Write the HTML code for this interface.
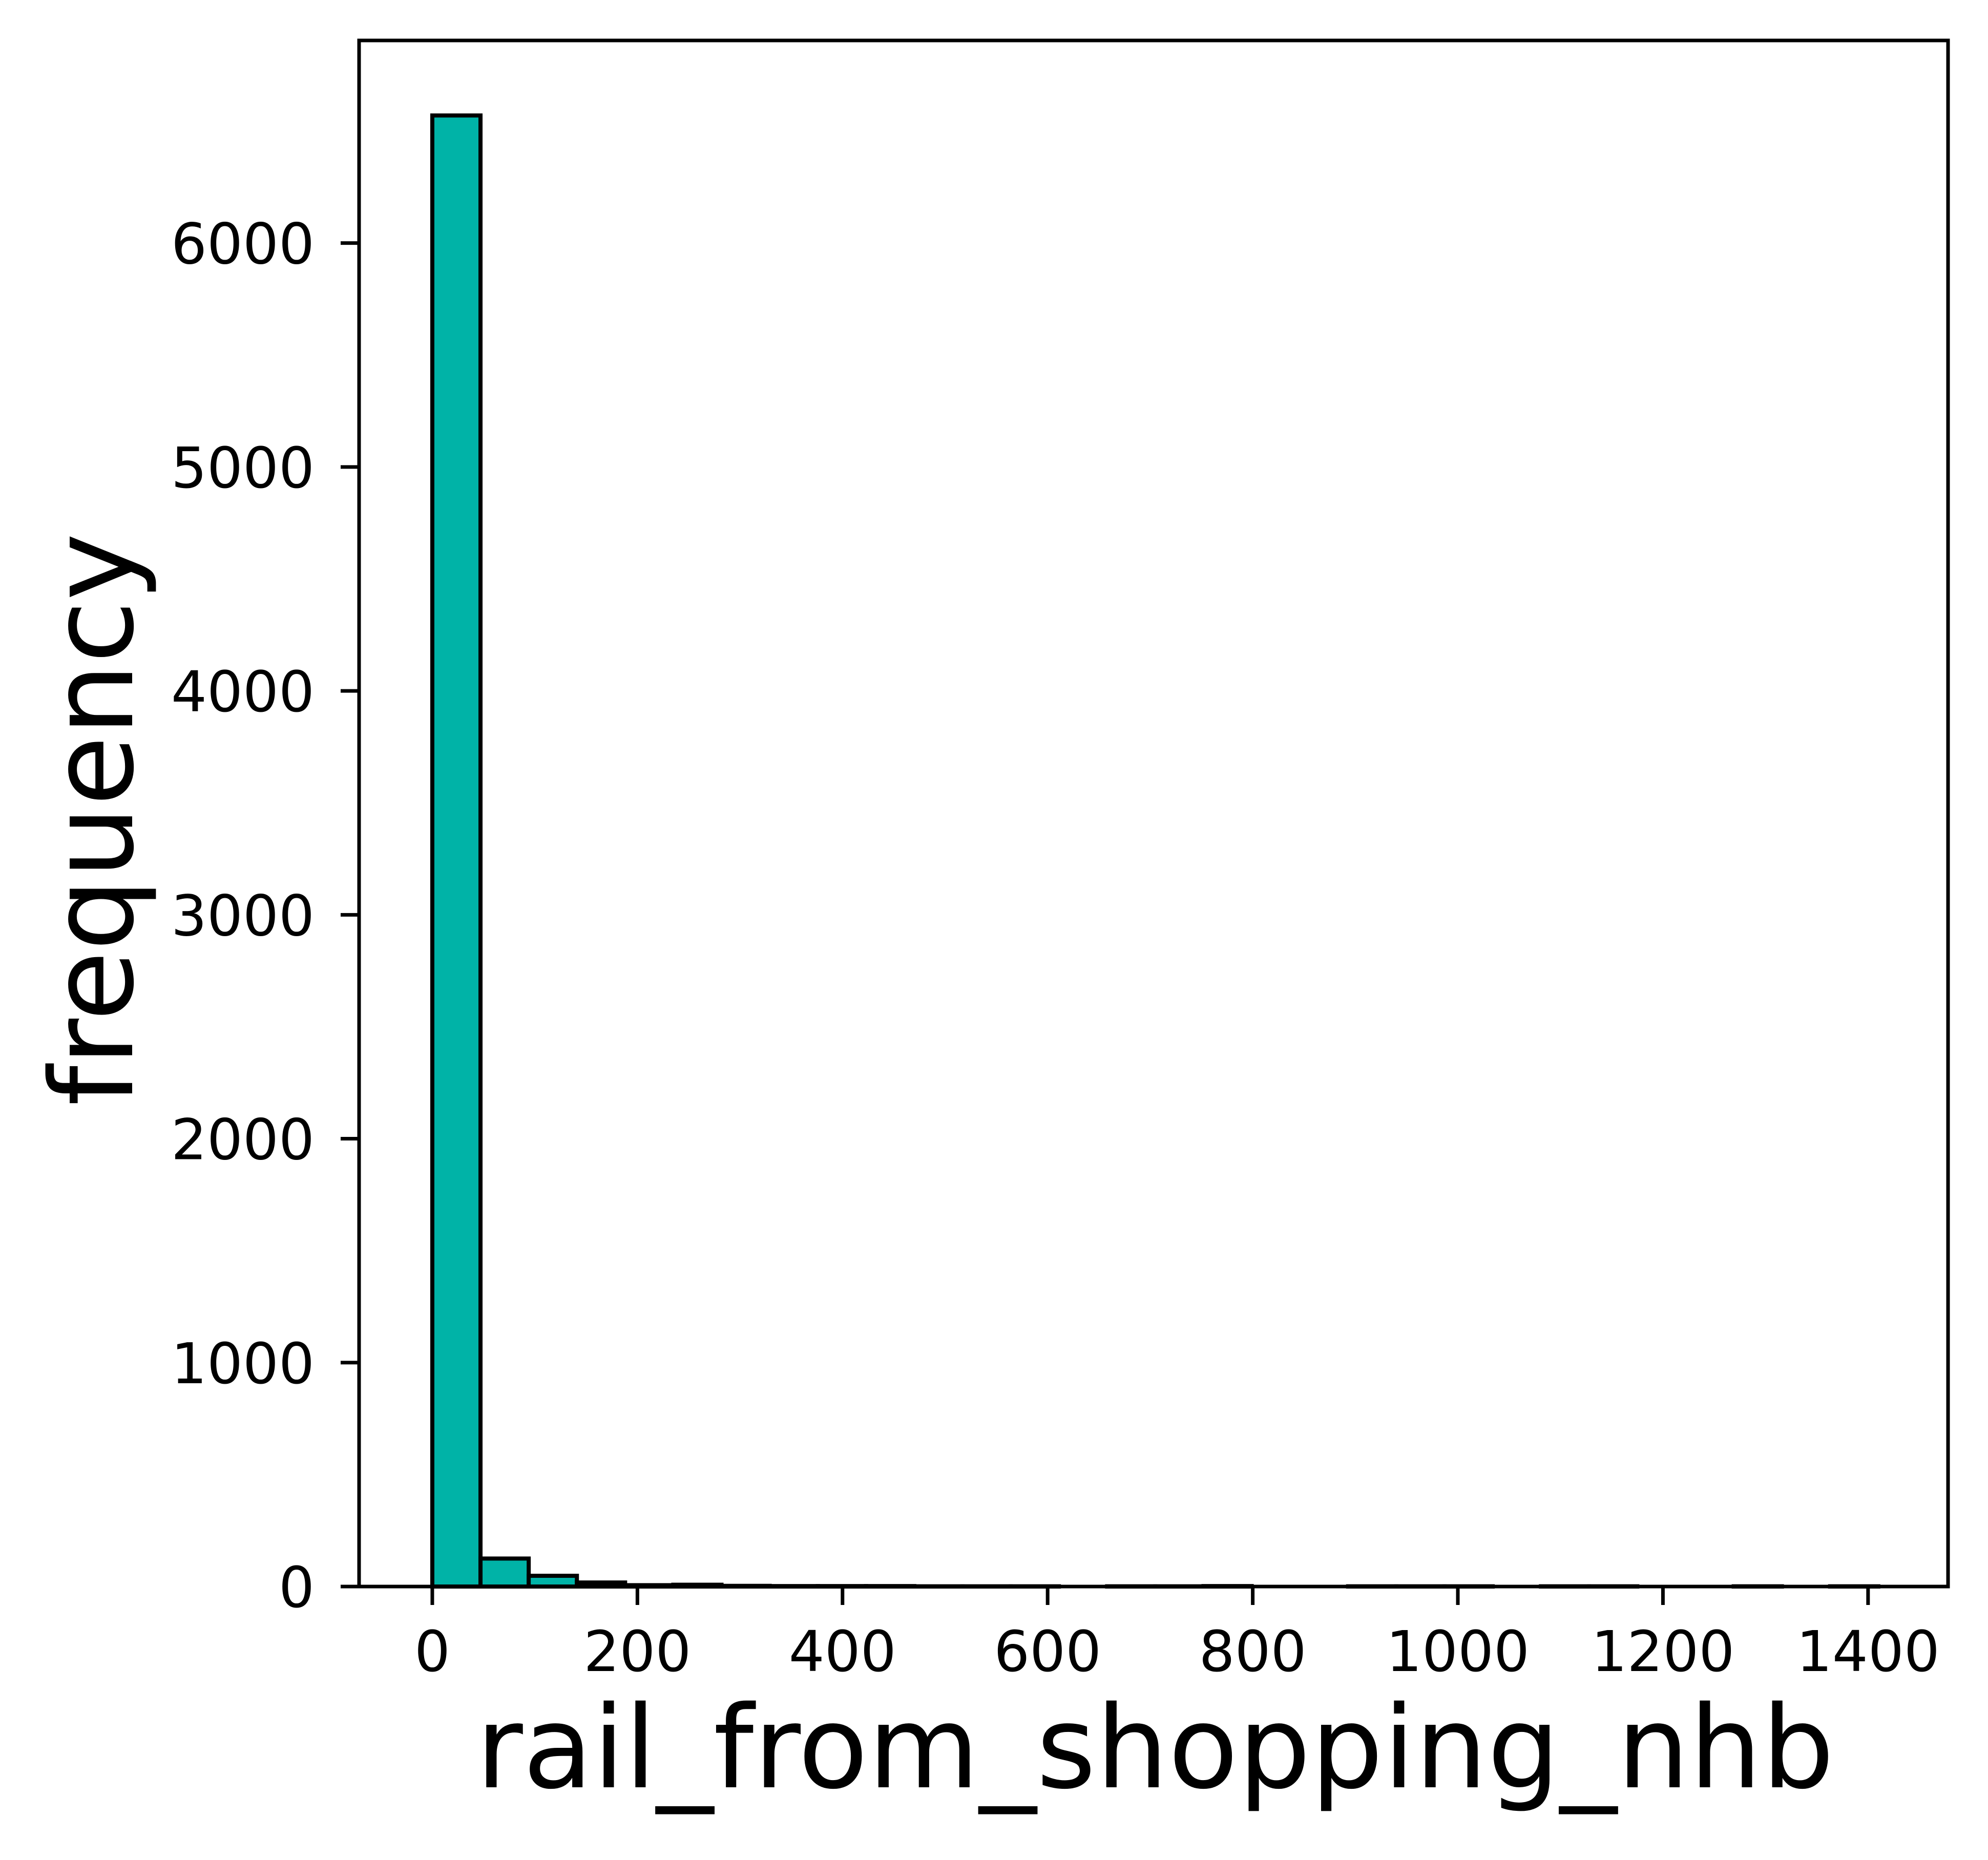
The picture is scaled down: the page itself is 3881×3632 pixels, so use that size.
<!DOCTYPE html>
<html><head><meta charset="utf-8"><style>
html,body{margin:0;padding:0;background:#fff;}
svg{display:block;}
text{font-family:"DejaVu Sans","Liberation Sans",sans-serif;fill:#000;}
</style></head><body>
<svg id="chart" width="3881" height="3632" viewBox="0 0 3881 3632" xmlns="http://www.w3.org/2000/svg">
<rect x="0" y="0" width="3881" height="3632" fill="#fff"/>
<g id="bars"></g>
<g id="axes"></g>
<text x="2255" y="3490" font-size="223" text-anchor="middle">rail_from_shopping_nhb</text>
<text transform="translate(258,1600) rotate(-90)" font-size="223" text-anchor="middle">frequency</text>
</svg>
<script>
const binStart = 0;
const binWidth = 47;
const counts = [6570,125,48,18,6,8,3,2,2,2,1,1,1,0,1,1,2,0,0,1,1,1,0,1,1,0,0,1,0,1];
const xTicks = [0,200,400,600,800,1000,1200,1400];
const yTicks = [0,1000,2000,3000,4000,5000,6000];

const L=701,R=3803,T=79,B=3098;
const xMin=-71.4,xMax=1478,yMin=0,yMax=6905;
const sx=v=>L+(v-xMin)/(xMax-xMin)*(R-L);
const sy=v=>B-(v-yMin)/(yMax-yMin)*(B-T);
const NS='http://www.w3.org/2000/svg';
const bars=document.getElementById('bars');
const axes=document.getElementById('axes');
function mk(tag,attrs,parent){const e=document.createElementNS(NS,tag);for(const k in attrs)e.setAttribute(k,attrs[k]);parent.appendChild(e);return e;}

counts.forEach((c,i)=>{
  const x0=sx(binStart+i*binWidth),x1=sx(binStart+(i+1)*binWidth);
  const r=mk('rect',{x:x0,y:sy(c),width:x1-x0,height:B-sy(c),fill:'#00b3a7',stroke:'#000','stroke-width':8},bars);
  
  
});

const frame=mk('rect',{x:L,y:T,width:R-L,height:B-T,fill:'none',stroke:'#000','stroke-width':7},axes);



xTicks.forEach(v=>{
  const x=sx(v);
  const t=mk('line',{x1:x,x2:x,y1:B,y2:B+36,stroke:'#000','stroke-width':7},axes);
  
  
  const lb=mk('text',{x:x,y:3263,'font-size':110,'text-anchor':'middle'},axes);
  lb.textContent=v;
  
  
});
yTicks.forEach(v=>{
  const y=sy(v);
  const t=mk('line',{x1:L-36,x2:L,y1:y,y2:y,stroke:'#000','stroke-width':7},axes);
  
  
  const lb=mk('text',{x:614,y:y+40,'font-size':110,'text-anchor':'end'},axes);
  lb.textContent=v;
  
  
});
</script>
</body></html>
